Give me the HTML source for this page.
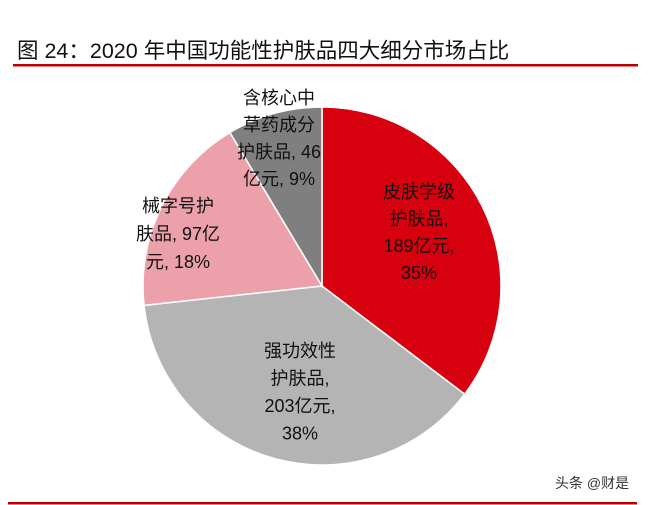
<!DOCTYPE html>
<html><head><meta charset="utf-8"><style>
body{margin:0;background:#fff;width:659px;height:505px;overflow:hidden;font-family:"Liberation Sans","Noto Sans CJK SC",sans-serif}
</style></head><body>
<svg width="659" height="505" style="position:absolute;left:0;top:0">
<text x="17" y="58" font-size="21.5" fill="#111" font-family="Liberation Sans, Noto Sans CJK SC, sans-serif">图 24：2020 年中国功能性护肤品四大细分市场占比</text>
<rect x="13" y="64" width="625" height="2.5" fill="#c00000"/>
<rect x="8" y="502" width="629" height="2.5" fill="#c00000"/>
<text x="555" y="488" font-size="14" fill="#333" font-family="Liberation Sans, Noto Sans CJK SC, sans-serif">头条 @财是</text>
<g id="pie"></g>
<g id="labels" font-size="18" fill="#111" text-anchor="middle" font-family="Liberation Sans, Noto Sans CJK SC, sans-serif"></g>
</svg>
<script>
const categories=["皮肤学级护肤品","强功效性护肤品","械字号护肤品","含核心中草药成分护肤品"];
const values=[189,203,97,46];
const colors=["#d7000f","#b4b4b4","#eca1aa","#7f7f7f"];
const labelLines=[["皮肤学级","护肤品,","189亿元,","35%"],["强功效性","护肤品,","203亿元,","38%"],["械字号护","肤品, 97亿","元, 18%"],["含核心中","草药成分","护肤品, 46","亿元, 9%"]];
const cx=322,cy=286,r=179;
const labelPos=[[419,198,27],[300,357,27.5],[178,212,28],[279,104,27]];
const ns="http://www.w3.org/2000/svg";
const total=values.reduce((a,b)=>a+b,0);
let a0=0;
const pg=document.getElementById('pie'),lg=document.getElementById('labels');
values.forEach((v,i)=>{
 const a1=a0+v/total*2*Math.PI;
 const x0=cx+r*Math.sin(a0),y0=cy-r*Math.cos(a0),x1=cx+r*Math.sin(a1),y1=cy-r*Math.cos(a1);
 const p=document.createElementNS(ns,'path');
 p.setAttribute('d',`M${cx},${cy}L${x0},${y0}A${r},${r} 0 ${a1-a0>Math.PI?1:0} 1 ${x1},${y1}Z`);
 p.setAttribute('fill',colors[i]);p.setAttribute('stroke','#fff');p.setAttribute('stroke-width','1.5');
 
 
 pg.appendChild(p);
 const [lx,ly,lh]=labelPos[i];
 labelLines[i].forEach((t,j)=>{
  const tx=document.createElementNS(ns,'text');
  tx.setAttribute('x',lx);tx.setAttribute('y',ly+j*lh);tx.textContent=t;
  
  
  lg.appendChild(tx);
 });
 a0=a1;
});
</script>
</body></html>
